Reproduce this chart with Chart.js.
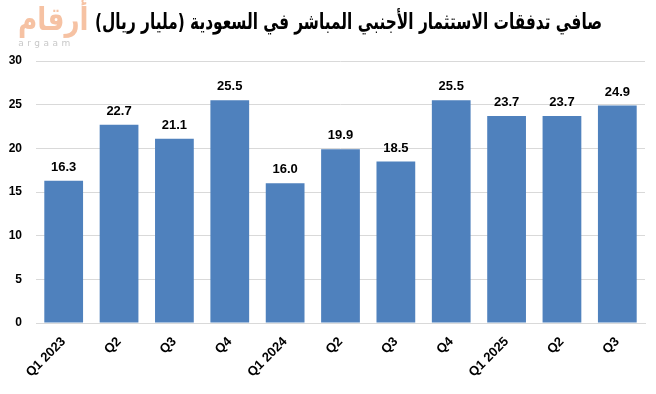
<!DOCTYPE html>
<html>
<head>
<meta charset="utf-8">
<script src="https://cdn.jsdelivr.net/npm/chart.js@4.4.0/dist/chart.umd.min.js"></script>
<style>
  body { margin: 0; background: #fff; }
  #wrap { position: relative; width: 656px; height: 394px; }
  #title {
    position: absolute; top: 9px; left: 95px; white-space: nowrap;
    font: bold 22px "DejaVu Sans", sans-serif; color: #000; direction: rtl;
    transform-origin: left top;
  }
  #logo { position: absolute; left: 12px; top: 0px; width: 68px; text-align: center; }
  #logo .ar { font: bold 32px "DejaVu Sans", sans-serif; color: #f6c2a3; line-height: 38px; transform: scaleX(0.82); }
  #logo .en { font: 9px "DejaVu Sans", sans-serif; color: #c8c8c8; letter-spacing: 3.5px; line-height: 10px; }
</style>
</head>
<body>
<div id="wrap">
  <canvas id="myChart" width="656" height="394"></canvas>
  <div id="logo"><div class="ar">أرقام</div><div class="en">argaam</div></div>
  <div id="title">صافي تدفقات الاستثمار الأجنبي المباشر في السعودية (مليار ريال)</div>
</div>
<script>
// chart data
let quarters = ["Q1 2023", "Q2", "Q3", "Q4", "Q1 2024", "Q2", "Q3", "Q4", "Q1 2025", "Q2", "Q3"];
let fdiValues = [16.3, 22.7, 21.1, 25.5, 16.0, 19.9, 18.5, 25.5, 23.7, 23.7, 24.9];
let yTicks = [0, 5, 10, 15, 20, 25, 30];

// fit the title into its space
let title = document.getElementById("title");
let tw = title.getBoundingClientRect().width;
title.style.transform = "scaleX(" + (507 / tw) + ")";

// labels above bars
let barLabels = {
  id: "barLabels",
  afterDatasetsDraw(chart) {
    let ctx = chart.ctx;
    ctx.save();
    ctx.font = "bold 13px 'Liberation Sans', sans-serif";
    ctx.fillStyle = "#000";
    ctx.textAlign = "center";
    ctx.textBaseline = "bottom";
    chart.getDatasetMeta(0).data.forEach((bar, i) => {
      ctx.fillText(fdiValues[i].toFixed(1), bar.x, bar.y - 7);
    });
    ctx.restore();
  },
};

let myChart = new Chart(document.getElementById("myChart"), {
  type: "bar",
  data: {
    labels: quarters,
    datasets: [
      {
        data: fdiValues,
        backgroundColor: "#4f81bd",
        barPercentage: 0.7,
        categoryPercentage: 1,
      },
    ],
  },
  plugins: [barLabels],
  options: {
    responsive: false,
    animation: false,
    layout: { padding: { top: 61, right: 11, left: 0, bottom: 0 } },
    plugins: {
      legend: { display: false },
      tooltip: { enabled: false },
    },
    scales: {
      x: {
        grid: { display: false },
        border: { color: "#d9d9d9" },
        ticks: {
          color: "#000",
          font: { family: "'Liberation Sans', sans-serif", size: 13, weight: "bold" },
          minRotation: 45,
          maxRotation: 45,
          autoSkip: false,
        },
        afterFit(scale) { scale.height = 71; },
      },
      y: {
        min: 0,
        max: 30,
        afterBuildTicks(scale) { scale.ticks = yTicks.map(v => ({ value: v })); },
        grid: { color: "#d9d9d9", drawTicks: false },
        border: { display: false },
        ticks: {
          color: "#000",
          padding: 14,
          font: { family: "'Liberation Sans', sans-serif", size: 12, weight: "bold" },
        },
        afterFit(scale) { scale.width = 36; },
      },
    },
  },
});
</script>
</body>
</html>
